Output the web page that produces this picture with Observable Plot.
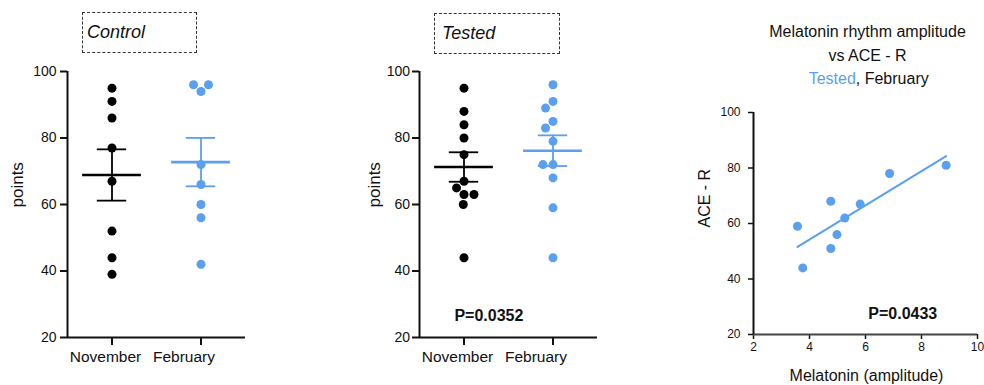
<!DOCTYPE html>
<html><head><meta charset="utf-8">
<script src="https://cdn.jsdelivr.net/npm/d3@7"></script>
<script src="https://cdn.jsdelivr.net/npm/@observablehq/plot@0.6"></script>
<style>
body{margin:0;background:#fff;font-family:"Liberation Sans",Arial,sans-serif;}
#wrap{position:relative;width:984px;height:385px;overflow:hidden;background:#fff;}
.panel{position:absolute;top:0;}
.box{position:absolute;border:1.4px dashed #333;font-style:italic;font-size:18px;color:#111;box-sizing:border-box;line-height:38px;padding-left:4px;}
</style></head><body>
<div id="wrap">
  <div class="panel" id="p1" style="left:0px"></div>
  <div class="panel" id="p2" style="left:360px"></div>
  <div class="panel" id="p3" style="left:680px"></div>
  <div class="box" style="left:82px;top:12px;width:115px;height:41px;">Control</div>
  <div class="box" style="left:434px;top:13px;width:126px;height:41px;padding-left:7px;">Tested</div>
</div>
<script>
// ---- data ----
const groups = ["November", "February"];
const yTicks = [20, 40, 60, 80, 100];
const controlNovember = [95, 91, 86, 77, 67, 52, 44, 39];
const controlFebruary = [94, 96, 96, 72, 66, 60, 56, 42];
const testedNovember = [95, 88, 84, 80, 75, 67, 65, 63, 63, 60, 44];
const testedFebruary = [96, 91, 89, 85, 83, 79, 72, 72, 68, 59, 44];
const melatoninAmplitude = [3.57, 3.76, 4.76, 4.76, 4.98, 5.26, 5.81, 6.86, 8.88];
const aceR = [59, 44, 68, 51, 56, 62, 67, 78, 81];
const xTicks = [2, 4, 6, 8, 10];
const pTested = "P=0.0352";
const pCorr = "P=0.0433";

const BLUE = "#5b9ff0";
const BLACK = "#000";
const FONT = '"Liberation Sans", Arial, sans-serif';

function dotPanel(nov, feb, opts) {
  const rows = [...nov.map(v => ({g: groups[0], v})), ...feb.map(v => ({g: groups[1], v}))];
  const stats = groups.map((g, i) => {
    const a = i ? feb : nov;
    const m = d3.mean(a), s = d3.deviation(a) / Math.sqrt(a.length);
    return {g, m, lo: m - s, hi: m + s};
  });
  const labelShift = [-6.5, -17];
  const marks = [
    Plot.axisY({ticks: yTicks, tickSize: 7, tickPadding: opts.tickPadding, strokeWidth: 2, fontSize: 14, label: null}),
    Plot.axisFx({anchor: "bottom", tickSize: 8, strokeWidth: 2, tickFormat: () => "", label: null}),
    ...groups.map((g, i) => Plot.text([{g}], {fx: "g", text: "g", frameAnchor: "bottom", dy: 24.7, dx: labelShift[i], fontSize: 15.5, lineAnchor: "bottom"})),
    Plot.ruleY([20], {strokeWidth: 2, stroke: "#111"}),
    Plot.ruleX([{g: groups[0]}], {fx: "g", x: -1, y1: 20, y2: 100, strokeWidth: 2, stroke: "#111"}),
    Plot.text([{g: groups[0], t: "points"}], {fx: "g", text: "t", frameAnchor: "left", rotate: -90, dx: opts.labelDx, dy: 3, fontSize: 17, lineAnchor: "middle"}),
    Plot.dot(rows, Plot.dodgeX("middle", {fx: "g", y: "v", r: 4.5, fill: "g", padding: 1})),
    Plot.ruleY(stats, {fx: "g", y: "m", x1: -0.66, x2: 0.66, stroke: "g", strokeWidth: 2.6}),
    Plot.ruleY(stats, {fx: "g", y: "lo", x1: -0.33, x2: 0.33, stroke: "g", strokeWidth: 1.8}),
    Plot.ruleY(stats, {fx: "g", y: "hi", x1: -0.33, x2: 0.33, stroke: "g", strokeWidth: 1.8}),
    Plot.ruleX(stats, {fx: "g", x: 0, y1: "lo", y2: "hi", stroke: "g", strokeWidth: 1.8})
  ];
  if (opts.pText) marks.push(Plot.text([{g: groups[0], t: opts.pText}], {fx: "g", text: "t", x: 0.56, y: 26.5, fontSize: 16, fontWeight: "bold", lineAnchor: "middle"}));
  return Plot.plot({
    width: opts.width, height: 385,
    marginLeft: opts.marginLeft, marginRight: opts.width - opts.marginLeft - 178,
    marginTop: 71, marginBottom: 48,
    style: {fontFamily: FONT, color: "#111", background: "transparent", overflow: "visible"},
    fx: {domain: groups, padding: 0, label: null},
    x: {domain: [-1, 1], axis: null},
    y: {domain: [20, 100], axis: null},
    color: {domain: groups, range: [BLACK, BLUE]},
    marks
  });
}

document.getElementById("p1").appendChild(dotPanel(controlNovember, controlFebruary, {width: 260, marginLeft: 67, tickPadding: 4, labelDx: -49.5}));
document.getElementById("p2").appendChild(dotPanel(testedNovember, testedFebruary, {width: 250, marginLeft: 59, tickPadding: 2.5, labelDx: -45, pText: pTested}));

const pts = melatoninAmplitude.map((x, i) => ({x, y: aceR[i]}));
const p3 = Plot.plot({
  width: 304, height: 385,
  marginLeft: 73, marginRight: 7, marginTop: 112, marginBottom: 51,
  style: {fontFamily: FONT, color: "#111", background: "transparent", overflow: "visible"},
  x: {domain: [2, 10], axis: null},
  y: {domain: [20, 100], axis: null},
  marks: [
    Plot.axisX({ticks: xTicks, tickSize: 5, tickPadding: 3, strokeWidth: 1.5, fontSize: 12, label: null}),
    Plot.axisY({ticks: yTicks, tickSize: 5, tickPadding: 8, strokeWidth: 1.5, fontSize: 12, label: null}),
    Plot.ruleY([20], {stroke: "#444", strokeWidth: 2}),
    Plot.ruleX([2], {stroke: "#111", strokeWidth: 2}),
    Plot.linearRegressionY(pts, {x: "x", y: "y", stroke: BLUE, strokeWidth: 2, ci: 0}),
    Plot.dot(pts, {x: "x", y: "y", r: 4.5, fill: BLUE}),
    Plot.text([pCorr], {x: 7.33, y: 27.5, fontSize: 16, fontWeight: "bold", lineAnchor: "middle"}),
    Plot.text(["ACE - R"], {frameAnchor: "left", rotate: -90, dx: -48.7, dy: 4, fontSize: 16, lineAnchor: "middle"}),
    Plot.text(["Melatonin (amplitude)"], {frameAnchor: "bottom", dy: 41, dx: 1, fontSize: 16, lineAnchor: "middle"}),
    Plot.text(["Melatonin rhythm amplitude"], {frameAnchor: "top", dy: -76, dx: 2, fontSize: 16, lineAnchor: "bottom"}),
    Plot.text(["vs ACE - R"], {frameAnchor: "top", dy: -52, dx: 2, fontSize: 16, lineAnchor: "bottom"}),
    Plot.text(["Tested"], {frameAnchor: "top", dy: -29, dx: -9.7, fontSize: 16, lineAnchor: "bottom", textAnchor: "end", fill: BLUE}),
    Plot.text([", February"], {frameAnchor: "top", dy: -29, dx: -9.7, fontSize: 16, lineAnchor: "bottom", textAnchor: "start"})
  ]
});
document.getElementById("p3").appendChild(p3);
</script>
</body></html>
